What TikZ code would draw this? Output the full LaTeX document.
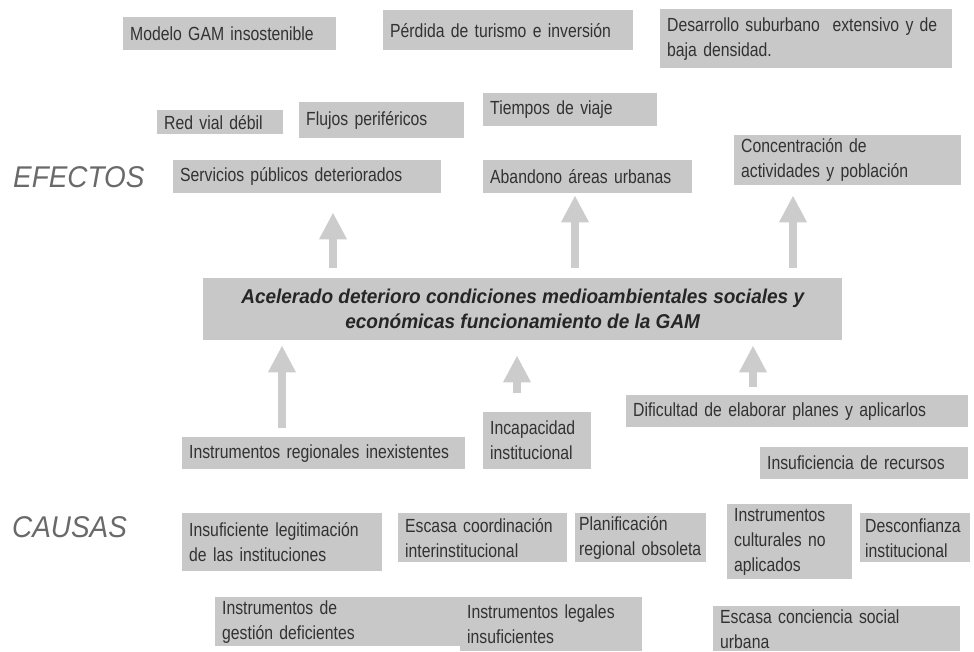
\documentclass[tikz,border=0pt]{standalone}
\usepackage{fontspec}
\setmainfont{Liberation Sans}[FakeStretch=0.83]
\newfontfamily\centerfont{Liberation Sans}[FakeStretch=0.95]
\newfontfamily\rowfont{Liberation Sans}[FakeStretch=0.93]
\usetikzlibrary{arrows.meta, calc, positioning}
\hyphenpenalty=10000
\definecolor{boxGray}{RGB}{200,200,200}
\definecolor{arrowGray}{RGB}{204,204,204}
\definecolor{textGray}{RGB}{50,50,50}
\definecolor{rowGray}{RGB}{105,105,105}
\tikzset{
    causeBox/.style={fill=boxGray, text=textGray, anchor=north west, align=left, inner xsep=7pt, inner ysep=2pt, font=\fontsize{19}{25}\selectfont},
    mainBox/.style={fill=boxGray, text=black!85, anchor=north west, align=center, inner sep=0pt, font=\fontsize{20}{25}\selectfont\centerfont\bfseries\itshape},
    rowLabel/.style={text=rowGray, anchor=base west, inner sep=0pt, font=\fontsize{30}{30}\selectfont\rowfont\itshape},
    upArrow/.style={draw=arrowGray, line width=8.5pt, -{Triangle[width=26pt, length=27pt]}},
}
% [padding], name, x, y, width, height, text
\newcommand{\drawBox}[7][7]{
    \pgfmathsetmacro{\boxtw}{#5-2*#1}
    \node[causeBox, inner xsep=#1pt, text width=\boxtw pt, minimum height=#6pt] (#2) at (#3, #4) {#7};
}
% column, from, to, shorten start, shorten end
\newcommand{\drawUp}[5]{
    \draw[upArrow, shorten <=#4pt, shorten >=#5pt] (#2 -| #1) -- (#3 -| #1);
}

\begin{document}
\begin{tikzpicture}[x=1pt, y=-1pt]
    \useasboundingbox (0, 0) rectangle (974, 651);

    \node[rowLabel] (efectos) at (13, 187) {EFECTOS};
    \node[rowLabel] (causas) at (12, 537) {CAUSAS};

    \drawBox{modelo}{123}{17}{213}{33}{Modelo GAM insostenible}
    \drawBox{perdida}{383}{10}{250}{40}{Pérdida de turismo e inversión}
    \drawBox{desarrollo}{660}{9}{292}{59}{Desarrollo suburbano\ \ extensivo y de\\baja densidad.}
    \drawBox{redvial}{157}{110}{126}{24}{Red vial débil}
    \drawBox{flujos}{299}{102}{165}{36}{Flujos periféricos}
    \drawBox{tiempos}{483}{93}{174}{33}{Tiempos de viaje}
    \drawBox{servicios}{173}{160}{268}{33}{Servicios públicos deteriorados}
    \drawBox{abandono}{483}{160}{209}{33}{Abandono áreas urbanas}
    \drawBox{concentracion}{734}{135}{227}{50}{Concentración de\\actividades y población}

    \node[mainBox, minimum width=639pt, minimum height=62pt] (main) at (203, 278)
        {Acelerado deterioro condiciones medioambientales sociales y\\económicas funcionamiento de la GAM};

    \drawBox{regionales}{182}{437}{283}{32}{Instrumentos regionales inexistentes}
    \drawBox{incapacidad}{483}{412}{108}{57}{Incapacidad\\institucional}
    \drawBox{dificultad}{626}{395}{342}{32}{Dificultad de elaborar planes y aplicarlos}
    \drawBox{recursos}{760}{447}{208}{32}{Insuficiencia de recursos}
    \drawBox{legitimacion}{182}{513}{200}{58}{Insuficiente legitimación\\de las instituciones}
    \drawBox{coordinacion}{398}{513}{169}{49}{Escasa coordinación\\interinstitucional}
    \drawBox[4]{planificacion}{575}{513}{131}{49}{Planificación\\regional obsoleta}
    \drawBox{culturales}{727}{504}{125}{75}{Instrumentos\\culturales no\\aplicados}
    \drawBox[5]{desconfianza}{860}{513}{110}{49}{Desconfianza\\institucional}
    \drawBox{gestion}{215}{597}{250}{49}{Instrumentos de\\gestión deficientes}
    \drawBox{legales}{460}{597}{182}{54}{Instrumentos legales\\insuficientes}
    \drawBox{conciencia}{713}{606}{247}{45}{Escasa conciencia social\\urbana}

    \coordinate (c1) at (333, 0);
    \coordinate (c2) at (575, 0);
    \coordinate (c3) at (793, 0);
    \coordinate (c4) at (282, 0);
    \coordinate (c5) at (517, 0);
    \coordinate (c6) at (753, 0);

    \drawUp{c1}{main.north}{servicios.south}{10}{19}
    \drawUp{c2}{main.north}{abandono.south}{10}{2}
    \drawUp{c3}{main.north}{concentracion.south}{10}{10}
    \drawUp{c4}{regionales.north}{main.south}{9}{5}
    \drawUp{c5}{incapacidad.north}{main.south}{19}{15}
    \drawUp{c6}{dificultad.north}{main.south}{8}{5}

\end{tikzpicture}
\end{document}
